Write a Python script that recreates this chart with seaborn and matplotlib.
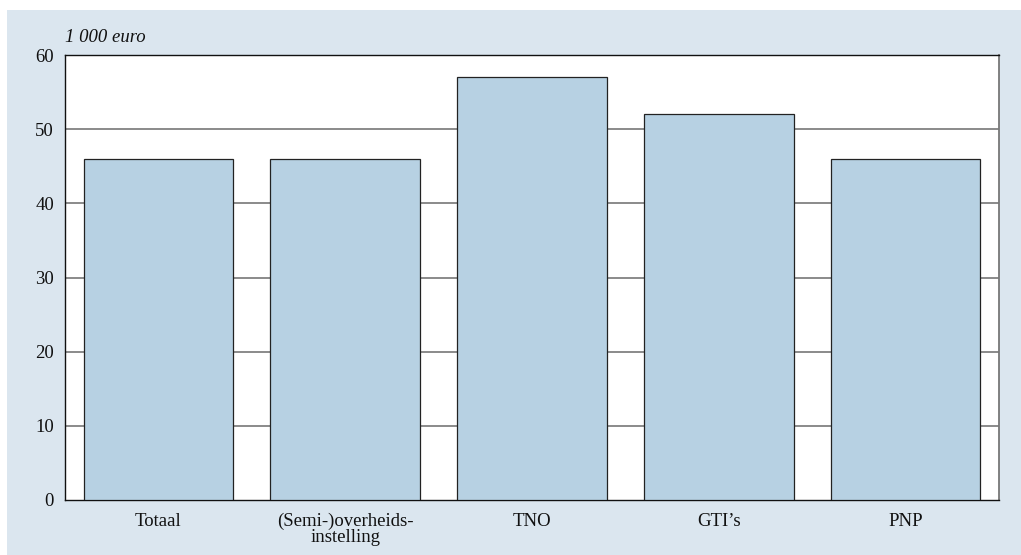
import matplotlib
matplotlib.use("Agg")
import matplotlib.pyplot as plt
import matplotlib.patches as mpatches
import seaborn as sns
import pandas as pd

categories = ["Totaal", "(Semi-)overheids-\ninstelling", "TNO", "GTI\u2019s", "PNP"]
values = [46, 46, 57, 52, 46]
yticks = [0, 10, 20, 30, 40, 50, 60]

df = pd.DataFrame({"categorie": categories, "waarde": values})

sns.set_style("white")
plt.rcParams["font.family"] = ["Liberation Serif", "DejaVu Serif"]

fig = plt.figure(figsize=(10.21, 5.55), dpi=100)
# lichtblauw kader achter de grafiek
fig.patches.append(mpatches.Rectangle((7 / 1021, 0), 1 - 7 / 1021, 1 - 10 / 555,
                                      transform=fig.transFigure, facecolor="#dbe6ef",
                                      edgecolor="none", zorder=-10))
ax = fig.add_axes([65 / 1021, 55 / 555, (999 - 65) / 1021, (500 - 55) / 555])
ax.set_facecolor("white")

sns.barplot(data=df, x="categorie", y="waarde", color="#b7d1e3", saturation=1,
            edgecolor="#222222", linewidth=0.9, width=0.8, ax=ax, zorder=3)

ax.set_ylim(0, 60)
ax.set_xlim(-0.5, 4.5)
ax.set_yticks(yticks)
for y in yticks[1:-1]:
    ax.axhline(y, color="#777777", linewidth=1.2, zorder=1)

for s in ax.spines.values():
    s.set_color("#111111")
    s.set_linewidth(1.0)
ax.spines["right"].set_color("#777777")
ax.spines["right"].set_linewidth(1.3)

ax.tick_params(axis="both", length=0, labelsize=13.5, pad=8, colors="#111111")
ax.tick_params(axis="x", pad=9)
for lbl in ax.get_xticklabels():
    lbl.set_linespacing(0.9)
ax.set_xlabel("")
ax.set_ylabel("")
fig.text(65 / 1021, 1 - 37 / 555, "1 000 euro", fontsize=13.5, style="italic",
         color="#111111", va="center", ha="left")

fig.savefig("out.png", dpi=100)
